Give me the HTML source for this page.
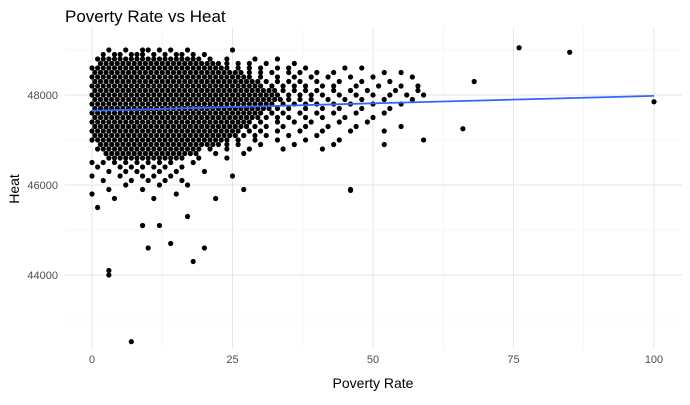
<!DOCTYPE html>
<html><head><meta charset="utf-8"><style>
body{margin:0;background:#fff;font-family:"Liberation Sans",sans-serif}
</style></head><body>
<svg id="chart" width="690" height="400" xmlns="http://www.w3.org/2000/svg">
<text x="65" y="22" font-size="17" fill="#000">Poverty Rate vs Heat</text>
<text x="373" y="388" font-size="14" text-anchor="middle" fill="#000">Poverty Rate</text>
<text transform="translate(19,189) rotate(-90)" font-size="14" text-anchor="middle" fill="#000">Heat</text>
<g id="grid"></g><g id="ticks"></g><g id="pts"></g><g id="trend"></g>
</svg>
<script>
const xTicks=[0,25,50,75,100];
const yTicks=[44000,46000,48000];
const yMinor=[43000,45000,47000,49000];
const xMinor=[12.5,37.5,62.5,87.5];
// rows: heat level + poverty values (ranges "a-b" = every integer in between)
const rowHeat=[49000,48900,48800,48700,48600,48500,48400,48300,48200,48100,48000,47900,47800,47700,47600,47500,47400,47300,47200,47100,47000,46900,46800,46700,46600,46500,46400,46300,46200,46100,46000,45900,45800,45700,45500];
const rowPov=["3,6,9,10,12,14,17,25","2,4,5,7,8,9,11,13,15,16,18,20","1-19,21,24,29,33","1-22,24,26,28,31,36","0-24,26,28,30,33,35,38,45,48","0-26,28,30,32,35,37,40,43,52,55","0-28,30,33,36,39,42,46,50,57","0-29,31,33,35,37,40,44,48,53","0-30,32,34,36,38,41,43,47,51,55,58","0-32,34,36,38,40,43,46,49,54,58","0-33,35,37,39,41,44,47,50,53,56,59","0-33,35,37,39,42,45,48,52,57","0-32,34,36,38,40,43,46,50,55","0-31,33,35,38,41,44,48,53","0-30,32,34,37,40,43,47,52","0-29,31,33,35,38,41,45,50","0-28,30,33,36,39,44,49","0-27,29,31,34,38,42,47,55","0-26,28,30,33,37,41,46,52","0-25,27,29,31,35,40","0-24,26,29,33,38,44,59","1-22,24,26,30,36,43,52","1-19,21,24,28,34,41","2-18,22,27","3-16,19,24","0,2,4,6,8,10,12,14,18","1,5,7,9,11,13,16","3,6,8,12,15,20","0,5,9,11,14,25","2,7,10,13,16","6,12,17","3,9,27,46","0,15","4,11","1"];
const outPov=[76,85,68,100,66,46,3,3,7,18,20,10,14,12,9,22,17];
const outHeat=[49050,48950,48300,47850,47250,45880,44100,44000,42520,44300,44600,44600,44700,45100,45100,45700,45300];
const trendPov=[0,100];
const trendHeat=[47650,47980];
const X0=65,X1=682,Y0=28,Y1=348;
const sx=v=>92+v*5.62;
const sy=v=>95-(v-48000)*0.045;
const NS="http://www.w3.org/2000/svg";
function mk(t,a,p){const e=document.createElementNS(NS,t);for(const k in a)e.setAttribute(k,a[k]);p.appendChild(e);return e;}
const grid=document.getElementById('grid'),ticks=document.getElementById('ticks'),pts=document.getElementById('pts'),trend=document.getElementById('trend');
yMinor.forEach(v=>{const l=mk('line',{x1:X0,x2:X1,y1:sy(v),y2:sy(v),stroke:'#f0f0f0','stroke-width':0.6},grid);

});
xMinor.forEach(v=>{const l=mk('line',{x1:sx(v),x2:sx(v),y1:Y0,y2:Y1,stroke:'#f0f0f0','stroke-width':0.6},grid);

});
yTicks.forEach(v=>{const l=mk('line',{x1:X0,x2:X1,y1:sy(v),y2:sy(v),stroke:'#e6e6e6','stroke-width':1},grid);


const t=mk('text',{x:58,y:sy(v)+4,'font-size':11,'text-anchor':'end',fill:'#4d4d4d'},ticks);t.textContent=v;

});
xTicks.forEach(v=>{const l=mk('line',{x1:sx(v),x2:sx(v),y1:Y0,y2:Y1,stroke:'#e6e6e6','stroke-width':1},grid);


const t=mk('text',{x:sx(v),y:363,'font-size':11,'text-anchor':'middle',fill:'#4d4d4d'},ticks);t.textContent=v;

});
function dot(p,h){const c=mk('circle',{cx:sx(p),cy:sy(h),r:2.6,fill:'#000'},pts);

}
rowHeat.forEach((h,i)=>{rowPov[i].split(',').forEach(s=>{if(s.includes('-')){const [a,b]=s.split('-').map(Number);for(let p=a;p<=b;p++)dot(p+((h/100)%2?0.5:0),h);}else dot(+s,h);});});
outPov.forEach((p,i)=>dot(p,outHeat[i]));
const tl=mk('line',{x1:sx(trendPov[0]),y1:sy(trendHeat[0]),x2:sx(trendPov[1]),y2:sy(trendHeat[1]),stroke:'#3366FF','stroke-width':1.8},trend);


</script>
</body></html>
